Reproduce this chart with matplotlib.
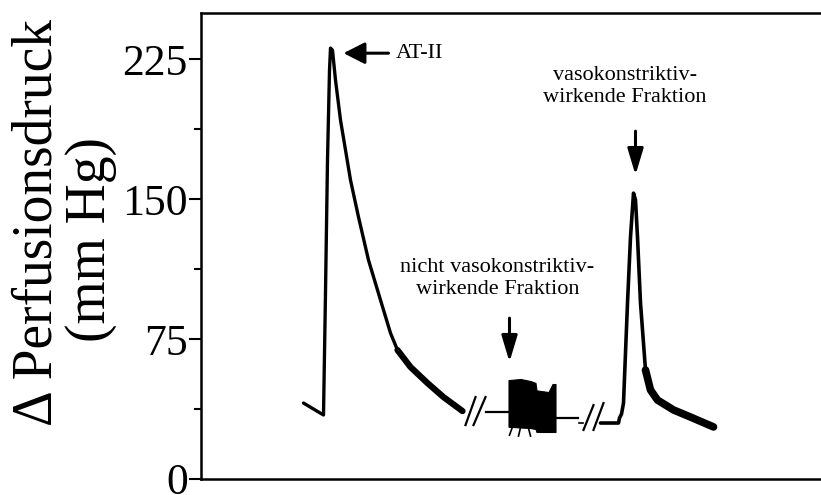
import matplotlib
matplotlib.use('Agg')
import matplotlib.pyplot as plt

# ---------------- data (time in arbitrary units, pressure in mm Hg) ----------------
# AT-II response
at2_x = [103, 123, 125, 127, 129, 130, 132, 135, 140, 145, 150, 158, 168, 180, 190, 197, 210, 227, 243, 262]
at2_y = [40.7, 34.3, 100.0, 170.9, 219.1, 230.9, 229.8, 213.8, 192.3, 176.3, 160.2, 140.4, 117.3, 95.9, 78.2, 69.1, 60.0, 51.4, 43.9, 36.4]

# non-vasoconstrictive fraction: baseline + oscillating block (envelope)
nv_left_x = [285, 308]
nv_left_y = [35.9, 35.9]
nv_right_x = [355, 377]
nv_right_y = [32.7, 32.7]
blk_x = [308, 320, 330, 335, 336, 348, 352, 355]
blk_top = [53.0, 53.6, 52.5, 51.5, 47.5, 46.6, 50.9, 50.9]
blk_bot = [28.0, 27.6, 27.3, 26.8, 25.2, 25.2, 25.2, 25.2]
legs_x0 = [312, 320, 328]
legs_x1 = [309, 318, 330]
legs_y0 = [28.0, 27.6, 27.3]
legs_y1 = [23.5, 23.0, 23.0]

# vasoconstrictive fraction
vc_x = [400, 418, 419, 421, 423, 427, 430, 433, 435, 437, 440, 445, 450, 457, 473, 490, 513]
vc_y = [30.0, 30.0, 32.7, 34.8, 40.7, 94.3, 129.6, 153.2, 149.5, 129.6, 94.3, 58.4, 47.7, 42.3, 37.0, 33.2, 27.9]

# break marks "//"
brk_x0 = [265, 273, 383, 393]
brk_x1 = [275, 285, 393, 403]
brk_y0 = [28.9, 28.9, 26.3, 26.3]
brk_y1 = [43.9, 43.9, 39.6, 40.7]
dash_x = [378, 382]
dash_y = [30.0, 30.0]

yticks = [0, 75, 150, 225]
yminor = [37.5, 112.5, 187.5]

# ---------------- figure ----------------
W, H = 821, 495
plt.rcParams['font.family'] = ['Liberation Serif', 'DejaVu Serif']
fig = plt.figure(figsize=(W / 100, H / 100), dpi=100)
ax = fig.add_axes([200.5 / W, 1 - 479 / H, (W - 200.5) / W, (479 - 12.5) / H])
ax.set_xlim(0, W - 200.5)
ax.set_ylim(0, 250)

c = 'black'
ax.plot(at2_x, at2_y, color=c, lw=2.4, solid_capstyle='round', solid_joinstyle='round')
ax.plot(at2_x[15:], at2_y[15:], color=c, lw=4.5, solid_capstyle='round', solid_joinstyle='round')

ax.plot(nv_left_x, nv_left_y, color=c, lw=1.6)
ax.plot(nv_right_x, nv_right_y, color=c, lw=1.6)
ax.fill_between(blk_x, blk_bot, blk_top, color=c, lw=0.8, edgecolor=c)
for x0, x1, y0, y1 in zip(legs_x0, legs_x1, legs_y0, legs_y1):
    ax.plot([x0, x1], [y0, y1], color=c, lw=1.2)

ax.plot(vc_x, vc_y, color=c, lw=2.6, solid_capstyle='round', solid_joinstyle='round')
ax.plot(vc_x[11:], vc_y[11:], color=c, lw=5.5, solid_capstyle='round', solid_joinstyle='round')

for x0, x1, y0, y1 in zip(brk_x0, brk_x1, brk_y0, brk_y1):
    ax.plot([x0, x1], [y0, y1], color=c, lw=1.6)
ax.plot(dash_x, dash_y, color=c, lw=1.2)

# annotations
ax.annotate('', xy=(143, 228.2), xytext=(188, 228.2),
            arrowprops=dict(arrowstyle='-|>,head_length=0.65,head_width=0.33', lw=2.2,
                            color=c, mutation_scale=20, shrinkA=0, shrinkB=0))
ax.text(195, 228.2, 'AT-II', ha='left', va='center', fontsize=16)

ax.annotate('', xy=(309, 62.7), xytext=(309, 86.2),
            arrowprops=dict(arrowstyle='-|>,head_length=0.8,head_width=0.24', lw=2.2,
                            color=c, mutation_scale=20, shrinkA=0, shrinkB=0))
ax.text(297, 107.5, 'nicht vasokonstriktiv-\nwirkende Fraktion', ha='center', va='center',
        fontsize=16, linespacing=1.2)

ax.annotate('', xy=(435, 162.9), xytext=(435, 186.4),
            arrowprops=dict(arrowstyle='-|>,head_length=0.8,head_width=0.24', lw=2.2,
                            color=c, mutation_scale=20, shrinkA=0, shrinkB=0))
ax.text(424.5, 210.5, 'vasokonstriktiv-\nwirkende Fraktion', ha='center', va='center',
        fontsize=16, linespacing=1.2)

# axes styling
for s in ['left', 'top', 'bottom']:
    ax.spines[s].set_linewidth(1.8)
ax.spines['right'].set_visible(False)
ax.set_xticks([])
ax.set_yticks(yticks)
ax.set_yticks(yminor, minor=True)
ax.set_yticklabels([str(v) for v in yticks])
ax.tick_params(axis='y', which='major', length=8.6, width=1.5, labelsize=31.5, pad=0.5)
ax.tick_params(axis='y', which='minor', length=5, width=1.5)

# y label (two lines)
fig.text(52 / W, 1 - 223 / H, '\u0394 Perfusionsdruck', rotation=90, rotation_mode='anchor',
         ha='center', va='baseline', fontsize=40)
fig.text(105 / W, 1 - 240 / H, '(mm Hg)', rotation=90, rotation_mode='anchor',
         ha='center', va='baseline', fontsize=40)

fig.savefig('out.png', dpi=100)
